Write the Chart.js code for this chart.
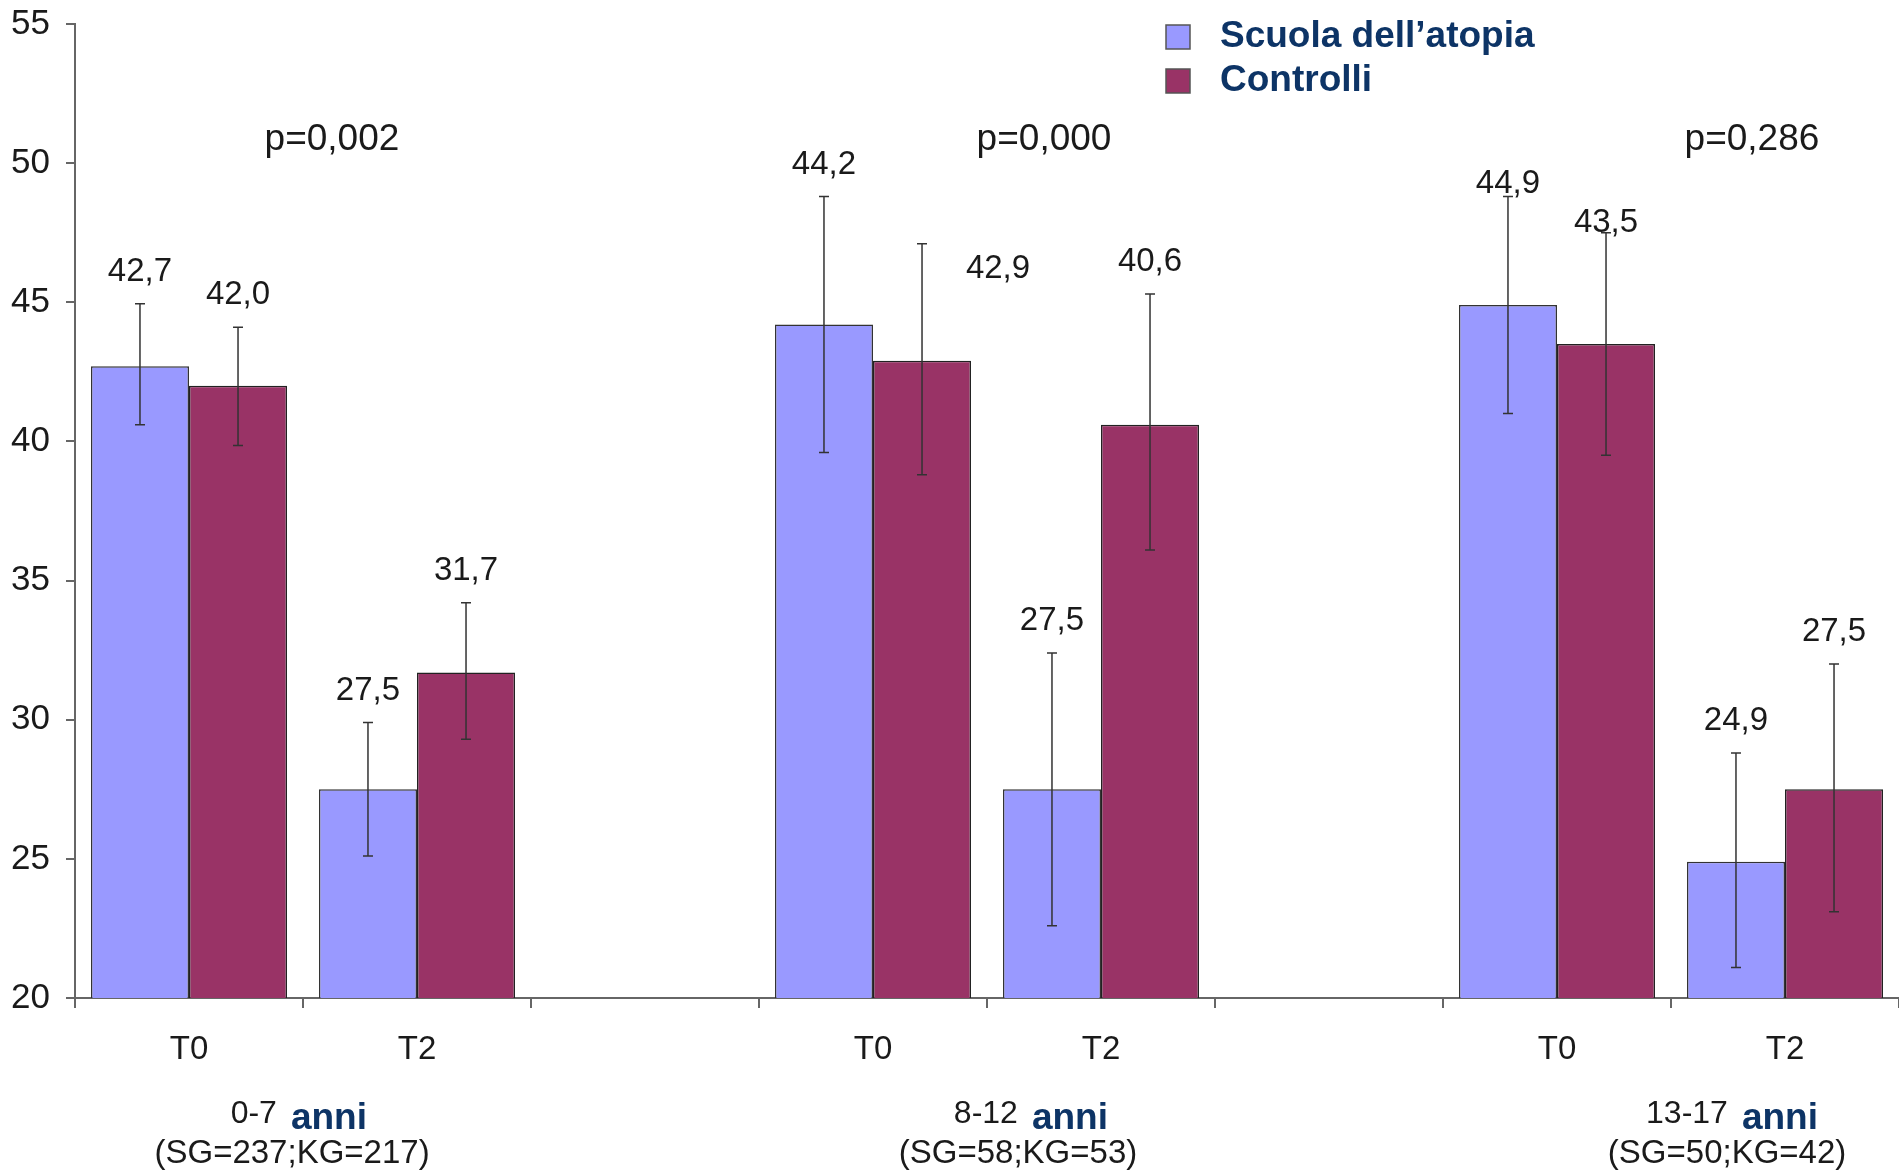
<!DOCTYPE html>
<html>
<head>
<meta charset="utf-8">
<script src="https://cdn.jsdelivr.net/npm/chart.js@4"></script>
<style>
  html, body { margin: 0; padding: 0; background: #fff; }
  #wrap { width: 1899px; height: 1171px; }
</style>
</head>
<body>
<div id="wrap"><canvas id="chart"></canvas></div>
<script>
// data
const categories = ["T0", "T2", "", "T0", "T2", "", "T0", "T2"];
const scuola     = [42.7, 27.5, null, 44.2, 27.5, null, 44.9, 24.9];
const controlli  = [42.0, 31.7, null, 42.9, 40.6, null, 43.5, 27.5];
// error bar ends
const scuolaHi    = [44.95, 29.9, null, 48.8, 32.4, null, 48.8, 28.8];
const scuolaLo    = [40.6, 25.1, null, 39.6, 22.6, null, 41.0, 21.1];
const controlliHi = [44.1, 34.2, null, 47.1, 45.3, null, 47.5, 32.0];
const controlliLo = [39.85, 29.3, null, 38.8, 36.1, null, 39.5, 23.1];
const yTicks = [20, 25, 30, 35, 40, 45, 50, 55];
const pValues = ["p=0,002", "p=0,000", "p=0,286"];
const ageGroups = ["0-7", "8-12", "13-17"];
const sampleSizes = ["(SG=237;KG=217)", "(SG=58;KG=53)", "(SG=50;KG=42)"];

const FONT = "'Liberation Sans', Arial, sans-serif";
const NAVY = "#0d3466";

// label nudges for the few value labels that sit off the default spot
const labelNudge = { "1-3": [76, 57], "0-6": [0, 19], "1-6": [0, 22] };
const pAt = [0.627, 3.75, 6.855];
const groupAt = [0.452, 3.636, 6.746];
const anniAt = [0.447, 3.697, 6.811];

const extras = {
  id: "extras",
  afterDatasetsDraw(chart) {
    const ctx = chart.ctx;
    const y = chart.scales.y;
    const hi = [scuolaHi, controlliHi], lo = [scuolaLo, controlliLo];
    ctx.save();
    chart.data.datasets.forEach((ds, i) => {
      const meta = chart.getDatasetMeta(i);
      meta.data.forEach((bar, j) => {
        const v = ds.data[j];
        if (v == null) return;
        const top = y.getPixelForValue(hi[i][j]);
        const bot = y.getPixelForValue(lo[i][j]);
        ctx.strokeStyle = "#333";
        ctx.lineWidth = 1.5;
        ctx.beginPath();
        ctx.moveTo(bar.x, top); ctx.lineTo(bar.x, bot);
        ctx.moveTo(bar.x - 5, top); ctx.lineTo(bar.x + 5, top);
        ctx.moveTo(bar.x - 5, bot); ctx.lineTo(bar.x + 5, bot);
        ctx.stroke();
        const n = labelNudge[i + "-" + j] || [0, 0];
        ctx.fillStyle = "#1a1a1a";
        ctx.font = "33px " + FONT;
        ctx.textAlign = "center";
        ctx.textBaseline = "middle";
        ctx.fillText(v.toFixed(1).replace(".", ","), bar.x + n[0], top - 32 + n[1]);
      });
    });
    ctx.restore();
  },
  afterDraw(chart) {
    const ctx = chart.ctx;
    const x = chart.scales.x, y = chart.scales.y;
    ctx.save();
    // p values
    ctx.fillStyle = "#1a1a1a";
    ctx.font = "37px " + FONT;
    ctx.textAlign = "center";
    ctx.textBaseline = "middle";
    pValues.forEach((p, k) => ctx.fillText(p, x.getPixelForValue(pAt[k]), y.getPixelForValue(50.83)));
    // age groups under the axis
    ageGroups.forEach((g, k) => {
      const ax = x.getPixelForValue(anniAt[k]);
      ctx.textBaseline = "alphabetic";
      ctx.textAlign = "right";
      ctx.fillStyle = "#1a1a1a";
      ctx.font = "32px " + FONT;
      ctx.fillText(g, ax - 14, 1123);
      ctx.textAlign = "left";
      ctx.fillStyle = NAVY;
      ctx.font = "bold 37px " + FONT;
      ctx.fillText("anni", ax, 1129);
      ctx.textAlign = "center";
      ctx.fillStyle = "#1a1a1a";
      ctx.font = "33px " + FONT;
      ctx.fillText(sampleSizes[k], x.getPixelForValue(groupAt[k]), 1163);
    });
    // legend
    ctx.textAlign = "left";
    ctx.textBaseline = "middle";
    chart.data.datasets.forEach((ds, i) => {
      const ly = 37 + i * 44;
      ctx.fillStyle = ds.backgroundColor;
      ctx.fillRect(1166, ly - 12, 24, 24);
      ctx.strokeStyle = "#555";
      ctx.lineWidth = 1.5;
      ctx.strokeRect(1166, ly - 12, 24, 24);
      ctx.fillStyle = NAVY;
      ctx.font = "bold 37px " + FONT;
      ctx.fillText(ds.label, 1220, ly);
    });
    ctx.restore();
  }
};

new Chart(document.getElementById("chart"), {
  type: "bar",
  data: {
    labels: categories,
    datasets: [
      { label: "Scuola dell’atopia", data: scuola, backgroundColor: "#9999ff", borderColor: "#333", borderWidth: 1.5 },
      { label: "Controlli", data: controlli, backgroundColor: "#993366", borderColor: "#222", borderWidth: 1.5 }
    ]
  },
  options: {
    responsive: true,
    maintainAspectRatio: false,
    animation: false,
    layout: { padding: { top: 24, right: 0, bottom: 0, left: 0 } },
    datasets: { bar: { categoryPercentage: 0.86, barPercentage: 1 } },
    plugins: { legend: { display: false }, tooltip: { enabled: false } },
    scales: {
      x: {
        afterFit: (s) => { s.height = 173; s.paddingLeft = 0; s.paddingRight = 0; },
        border: { color: "#666", width: 2 },
        grid: { drawOnChartArea: false, color: "#666", tickLength: 10, lineWidth: 2 },
        ticks: { color: "#1a1a1a", font: { family: FONT, size: 33 }, padding: 22 }
      },
      y: {
        min: 20, max: 55,
        afterFit: (s) => { s.width = 75; s.paddingTop = 0; s.paddingBottom = 0; },
        afterBuildTicks: (s) => { s.ticks = yTicks.map(v => ({ value: v })); },
        border: { color: "#666", width: 2 },
        grid: { drawOnChartArea: false, color: "#666", tickLength: 9, lineWidth: 2 },
        ticks: { color: "#1a1a1a", font: { family: FONT, size: 35 }, padding: 16 }
      }
    }
  },
  plugins: [extras]
});
</script>
</body>
</html>
